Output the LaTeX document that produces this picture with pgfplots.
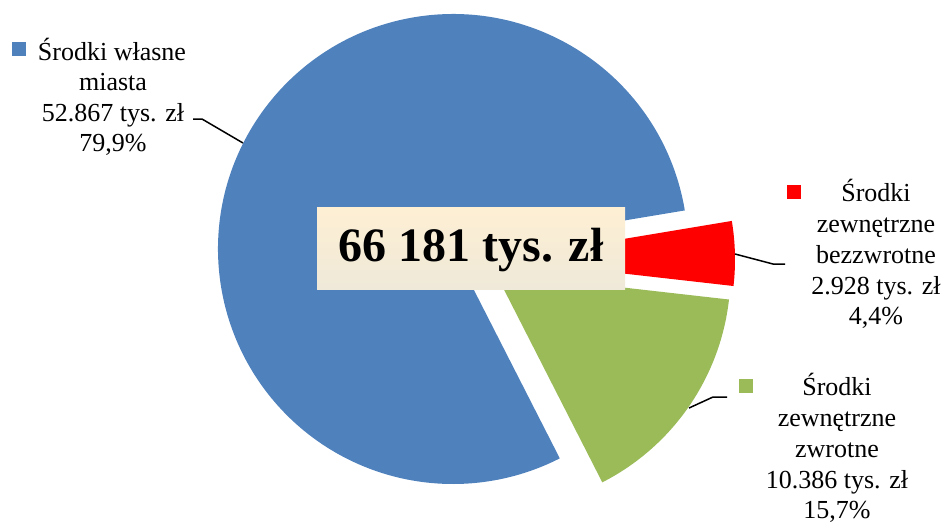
\documentclass[border=0pt]{standalone}
\usepackage{pgfplots}
\pgfplotsset{compat=1.18}
\usepackage{pgfplotstable}
\usepackage{fontspec}
\setmainfont{Liberation Serif}
\definecolor{pieblue}{HTML}{4F81BD}
\definecolor{piered}{HTML}{FF0000}
\definecolor{piegreen}{HTML}{9BBB59}
\definecolor{boxtop}{HTML}{FEEFD3}
\definecolor{boxbot}{HTML}{EFE9D9}
\pgfplotstableread{
id value
1 52867
2 10386
3 2928
}\piedata
\begin{document}%
\pgfplotstablegetelem{0}{value}\of\piedata\edef\va{\pgfplotsretval}%
\pgfplotstablegetelem{1}{value}\of\piedata\edef\vb{\pgfplotsretval}%
\pgfplotstablegetelem{2}{value}\of\piedata\edef\vc{\pgfplotsretval}%
\edef\sA{9.45}%
\edef\eA{\fpeval{\sA+360*\va/(\va+\vb+\vc)}}%
\edef\eB{\fpeval{\eA+360*\vb/(\va+\vb+\vc)}}%
\edef\eC{\fpeval{\sA+360}}%
\begin{tikzpicture}
\begin{axis}[
  at={(0,0)}, anchor=south west,
  scale only axis, width=472.5pt, height=260.5pt,
  xmin=0, xmax=945, ymin=0, ymax=521, y dir=reverse,
  hide axis, clip=false,
]
% slices (blue in place, green and red pulled out)
\fill[pieblue] (axis cs:453,249) -- ++(\sA:117.5pt) arc[start angle=\sA, end angle=\eA, radius=117.5pt] -- cycle;
\fill[piegreen] (axis cs:495.5,273) -- ++(\eA:117.5pt) arc[start angle=\eA, end angle=\eB, radius=117.5pt] -- cycle;
\fill[piered] (axis cs:500,259.5) -- ++(\eB:117.5pt) arc[start angle=\eB, end angle=\eC, radius=117.5pt] -- cycle;
% total box
\shade[top color=boxtop, bottom color=boxbot] (axis cs:317,207) rectangle (axis cs:625,289);
\node[anchor=base, inner sep=0pt, font=\fontsize{24}{28}\selectfont\bfseries] at (axis cs:471,261.5) {66 181 tys. zł};
% leader lines
\draw[line width=0.75pt] (axis cs:193,119) -- (axis cs:202,119) -- (axis cs:243,143);
\draw[line width=0.75pt] (axis cs:735,254) -- (axis cs:773,264) -- (axis cs:785,264);
\draw[line width=0.75pt] (axis cs:689,408) -- (axis cs:713,397) -- (axis cs:727,397);
% label markers
\fill[pieblue] (axis cs:12,42) rectangle (axis cs:26,56);
\fill[piered] (axis cs:787,185) rectangle (axis cs:801,199);
\fill[piegreen] (axis cs:739,379) rectangle (axis cs:753,393);
% labels
\tikzset{lab/.style={anchor=base, inner sep=0pt, font=\fontsize{13}{15}\selectfont}}
\node[lab] at (axis cs:112,60) {Środki własne};
\node[lab] at (axis cs:113,90.5) {miasta};
\node[lab] at (axis cs:113,121) {52.867 tys. zł};
\node[lab] at (axis cs:113,151.5) {79,9\%};
\node[lab] at (axis cs:876,201.7) {Środki};
\node[lab] at (axis cs:876,232.5) {zewnętrzne};
\node[lab] at (axis cs:876,263.3) {bezzwrotne};
\node[lab] at (axis cs:876,294) {2.928 tys. zł};
\node[lab] at (axis cs:876,324.5) {4,4\%};
\node[lab] at (axis cs:837,395) {Środki};
\node[lab] at (axis cs:837,426) {zewnętrzne};
\node[lab] at (axis cs:837,457) {zwrotne};
\node[lab] at (axis cs:837,488) {10.386 tys. zł};
\node[lab] at (axis cs:837,518.5) {15,7\%};
\end{axis}
\pgfresetboundingbox
\useasboundingbox (0,0) rectangle (472.5pt,260.5pt);
\end{tikzpicture}%
\end{document}
